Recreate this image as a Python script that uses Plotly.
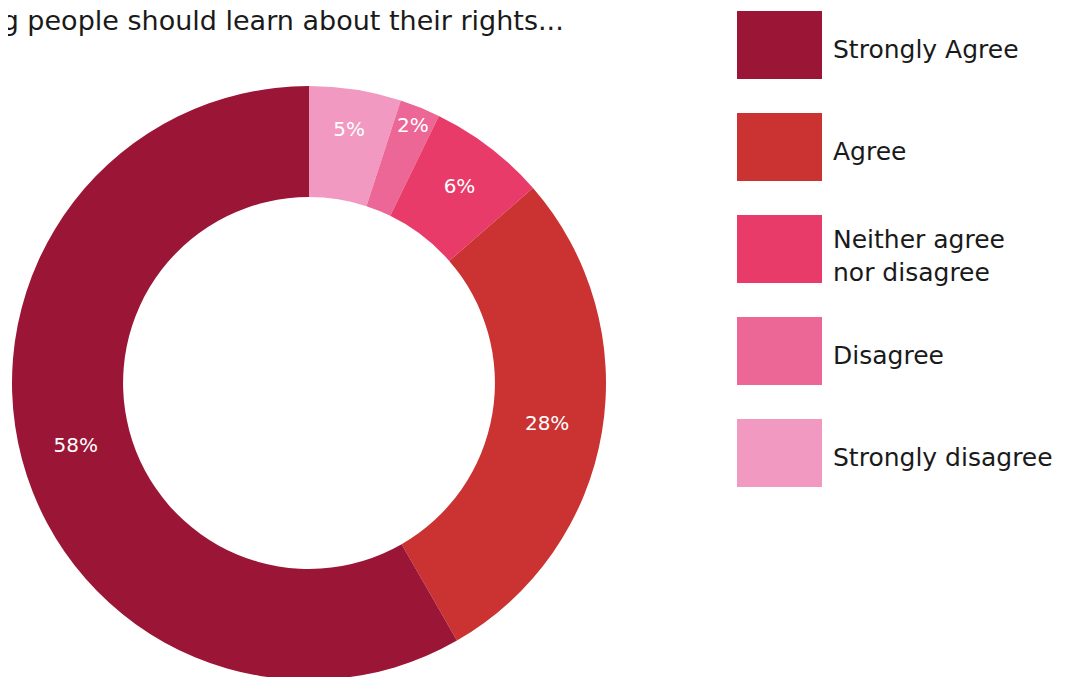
import plotly.graph_objects as go

W, H = 1076, 677
OFF = 8  # page body margin in the browser

title_text = "Young people should learn about their rights..."
labels = ["Strongly Agree", "Agree", "Neither agree<br>nor disagree", "Disagree", "Strongly disagree"]
values = [58.3, 28.1, 6.4, 2.2, 5.0]
colors = ["#9B1636", "#CB3232", "#E83B6A", "#EC6696", "#F199C1"]

FONT = "DejaVu Sans, Verdana, sans-serif"

# pie geometry (viewport pixels -> figure pixels)
cx, cy, r = 309 - OFF, 383 - OFF, 297

fig = go.Figure(go.Pie(
    labels=labels[::-1],
    values=values[::-1],
    hole=0.626,
    sort=False,
    direction="clockwise",
    rotation=0,
    marker=dict(colors=colors[::-1], line=dict(width=0)),
    texttemplate="%{percent:.0%}",
    textposition="inside",
    insidetextorientation="horizontal",
    textfont=dict(family=FONT, size=20, color="white"),
    showlegend=False,
    hoverinfo="label+percent",
    domain=dict(x=[max(0, (cx - r) / W), min(1, (cx + r) / W)],
                y=[max(0, (H - cy - r) / H), min(1, (H - cy + r) / H)]),
))

annotations = [dict(
    text=title_text, xref="paper", yref="paper",
    x=(566 - OFF) / W, y=1 - (20 - OFF) / H, xanchor="right", yanchor="middle",
    showarrow=False, font=dict(family=FONT, size=27, color="#1a1a1a"),
)]
shapes = []
sq_x0, sq_x1 = 737 - OFF, 822 - OFF
sq_top0, sq_h, step = 11 - OFF, 68, 102
for i, (lab, col) in enumerate(zip(labels, colors)):
    top = sq_top0 + i * step
    shapes.append(dict(
        type="rect", xref="paper", yref="paper",
        x0=sq_x0 / W, x1=sq_x1 / W, y0=1 - (top + sq_h) / H, y1=1 - top / H,
        fillcolor=col, line=dict(width=0),
    ))
    extra = 3 if "<br>" in lab else 0
    annotations.append(dict(
        text=lab, xref="paper", yref="paper",
        x=(831 - OFF) / W, y=1 - (top + sq_h / 2 + 4 + extra) / H,
        xanchor="left", yanchor="middle",
        align="left", showarrow=False,
        font=dict(family=FONT, size=25, color="#1a1a1a"),
    ))

fig.update_layout(
    width=W, height=H,
    margin=dict(l=0, r=0, t=0, b=0),
    paper_bgcolor="white", plot_bgcolor="white",
    uniformtext=dict(minsize=20, mode="show"),
    annotations=annotations, shapes=shapes,
)

fig.write_html("out.html")
